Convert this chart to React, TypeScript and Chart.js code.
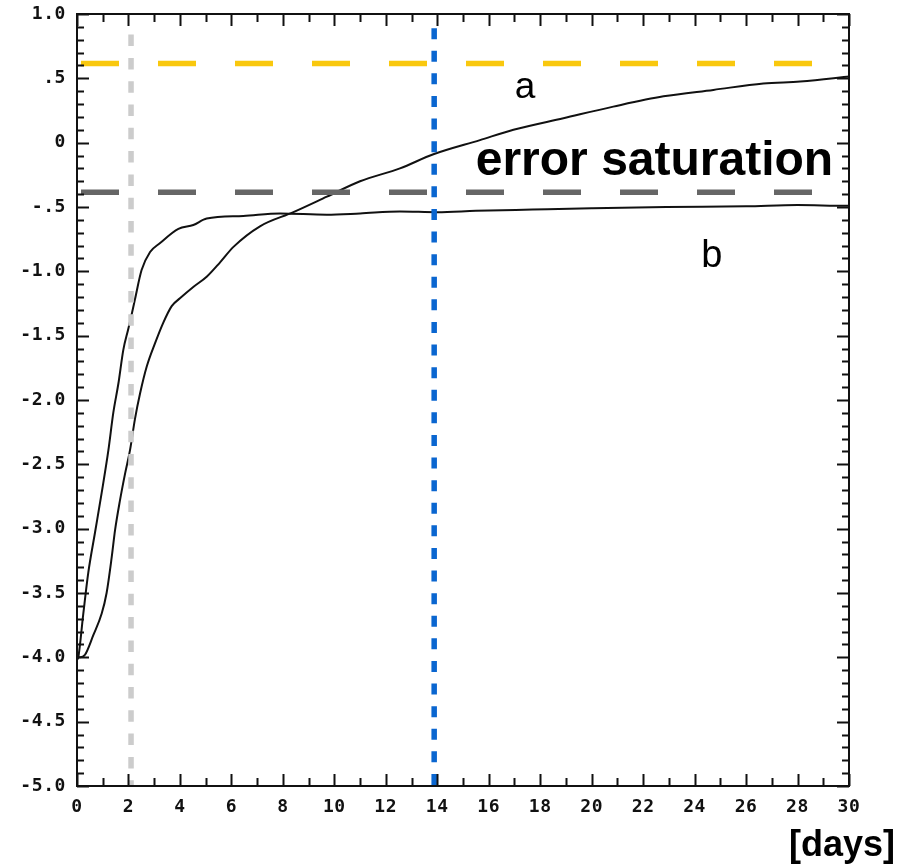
import React, { useEffect, useRef } from "react";
import { Chart, registerables } from "chart.js";

Chart.register(...registerables);

// ---- data ----
const curveADays = [0, 0.12, 0.31, 0.63, 0.96, 1.15, 1.35, 1.48, 1.67, 1.87, 2.06, 2.25, 2.45, 2.71, 3.03, 3.35, 3.68, 4.0, 4.53, 5.05, 5.56, 6.08, 7.11, 8.41, 9.71, 11.0, 12.55, 13.85, 15.66, 16.96, 18.9, 20.84, 22.79, 24.73, 26.67, 28.1, 29.4, 30];
const curveAValues = [-4.0, -4.0, -3.98, -3.83, -3.66, -3.5, -3.22, -3.01, -2.78, -2.57, -2.39, -2.15, -1.95, -1.74, -1.56, -1.4, -1.27, -1.21, -1.12, -1.04, -0.93, -0.81, -0.65, -0.54, -0.42, -0.3, -0.2, -0.09, 0.02, 0.1, 0.19, 0.28, 0.36, 0.41, 0.46, 0.475, 0.5, 0.515];

const curveBDays = [0, 0.05, 0.245, 0.44, 0.7, 0.96, 1.22, 1.41, 1.61, 1.8, 1.99, 2.13, 2.25, 2.51, 2.84, 3.23, 3.94, 4.52, 5.04, 6.46, 7.89, 9.7, 11.0, 12.55, 14.0, 15.5, 17.7, 20.0, 22.9, 26.0, 28.0, 29.9, 30];
const curveBValues = [-4.02, -4.0, -3.66, -3.34, -3.03, -2.72, -2.39, -2.1, -1.87, -1.61, -1.45, -1.33, -1.22, -0.99, -0.85, -0.78, -0.67, -0.64, -0.59, -0.57, -0.55, -0.56, -0.55, -0.535, -0.54, -0.53, -0.52, -0.51, -0.5, -0.495, -0.485, -0.49, -0.49];

const saturationLevelA = 0.616; // yellow dashed
const saturationLevelB = -0.385; // dark gray dashed
const markerDays = [2.1, 13.88]; // light gray, blue
const markerTops = [0.84, 0.89];

const xRange = [0, 30];
const yRange = [-5, 1];
const xTickStep = 2;
const yTickStep = 0.5;
const yMinorStep = 0.1;

const annotations = [
  { text: "a", day: 17.41, value: 0.348, font: "normal 37px 'Liberation Sans', Arial, sans-serif" },
  { text: "error saturation", day: 22.44, value: -0.25, font: "bold 48px 'Liberation Sans', Arial, sans-serif" },
  { text: "b", day: 24.67, value: -0.963, font: "normal 38px 'Liberation Sans', Arial, sans-serif" },
];
const axisUnit = "[days]";

const fmtY = (v: number) => {
  if (Math.abs(v) < 1e-9) return "0";
  const s = v.toFixed(1);
  return Math.abs(v) < 1 ? s.replace("0.", ".") : s;
};

const decor = {
  id: "decor",
  beforeDraw(chart: any) {
    chart.ctx.letterSpacing = "0.6px";
  },
  afterDraw(chart: any) {
    const { ctx, chartArea: a } = chart;
    const x = chart.scales.x;
    const y = chart.scales.y;
    ctx.save();
    ctx.letterSpacing = "0px";
    ctx.strokeStyle = "#111";
    ctx.lineWidth = 2;
    ctx.strokeRect(a.left, a.top, a.right - a.left, a.bottom - a.top);
    ctx.beginPath();
    const nY = Math.round((yRange[1] - yRange[0]) / yMinorStep);
    for (let i = 0; i <= nY; i++) {
      const v = yRange[0] + i * yMinorStep;
      const len = i % 5 === 0 ? 12 : 7;
      const py = Math.round(y.getPixelForValue(v)) + 0.5;
      ctx.moveTo(a.left, py);
      ctx.lineTo(a.left + len, py);
      ctx.moveTo(a.right, py);
      ctx.lineTo(a.right - len, py);
    }
    for (let d = xRange[0]; d <= xRange[1]; d++) {
      const len = d % 2 === 0 ? 12 : 8;
      const px = Math.round(x.getPixelForValue(d)) + 0.5;
      ctx.moveTo(px, a.bottom);
      ctx.lineTo(px, a.bottom - len);
      ctx.moveTo(px, a.top);
      ctx.lineTo(px, a.top + len);
    }
    ctx.stroke();

    ctx.fillStyle = "#000";
    ctx.textAlign = "center";
    ctx.textBaseline = "alphabetic";
    for (const an of annotations) {
      ctx.font = an.font;
      ctx.fillText(an.text, x.getPixelForValue(an.day), y.getPixelForValue(an.value));
    }
    ctx.font = "bold 36px 'Liberation Sans', Arial, sans-serif";
    ctx.textAlign = "right";
    ctx.fillText(axisUnit, a.right + 46, a.bottom + 70);
    ctx.restore();
  },
};

export default function App() {
  const ref = useRef<HTMLCanvasElement | null>(null);
  useEffect(() => {
    if (!ref.current) return;
    const toXY = (xs: number[], ys: number[]) => xs.map((d, i) => ({ x: d, y: ys[i] }));
    const line = (data: any[], color: string, width: number, dash: number[], offset = 0) => ({
      data,
      borderColor: color,
      borderWidth: width,
      borderDash: dash,
      borderDashOffset: offset,
      borderCapStyle: "butt",
      pointRadius: 0,
      fill: false,
      tension: 0,
    });
    const tickFont = { family: "'DejaVu Sans Mono', monospace", size: 18, weight: "bold" as const };
    const chart = new Chart(ref.current, {
      type: "line",
      data: {
        datasets: [
          line([{ x: markerDays[1], y: markerTops[1] }, { x: markerDays[1], y: yRange[0] }], "#0a66d0", 5.5, [11, 11.6]),
          line([{ x: markerDays[0], y: markerTops[0] }, { x: markerDays[0], y: yRange[0] }], "#cccccc", 5.5, [11.5, 11.8]),
          line([{ x: xRange[0], y: saturationLevelA }, { x: xRange[1], y: saturationLevelA }], "#f9c80e", 5.5, [38, 39], -4),
          line([{ x: xRange[0], y: saturationLevelB }, { x: xRange[1], y: saturationLevelB }], "#666666", 5.5, [38, 39], -4),
          { ...line(toXY(curveBDays, curveBValues), "#111", 2, []), cubicInterpolationMode: "monotone" },
          { ...line(toXY(curveADays, curveAValues), "#111", 2, []), cubicInterpolationMode: "monotone" },
        ] as any,
      },
      options: {
        responsive: false,
        animation: false,
        events: [],
        layout: { padding: { top: 14, right: 63, left: 0, bottom: 0 } },
        plugins: { legend: { display: false }, tooltip: { enabled: false } },
        scales: {
          x: {
            type: "linear",
            min: xRange[0],
            max: xRange[1],
            grid: { display: false, drawTicks: false },
            border: { display: false },
            ticks: {
              stepSize: xTickStep,
              color: "#111",
              padding: 11,
              maxRotation: 0,
              font: tickFont,
            },
            afterFit: (s: any) => {
              s.height = 81;
              s.paddingLeft = 0;
              s.paddingRight = 0;
            },
          },
          y: {
            type: "linear",
            min: yRange[0],
            max: yRange[1],
            grid: { display: false, drawTicks: false },
            border: { display: false },
            ticks: {
              stepSize: yTickStep,
              color: "#111",
              padding: 11,
              callback: (v: any) => fmtY(Number(v)),
              font: tickFont,
            },
            afterFit: (s: any) => {
              s.width = 77;
              s.paddingTop = 0;
              s.paddingBottom = 0;
            },
          },
        },
      },
      plugins: [decor],
    });
    return () => chart.destroy();
  }, []);
  return (
    <div style={{ position: "absolute", left: 0, top: 0, width: 912, height: 867, background: "#fff" }}>
      <canvas ref={ref} width={912} height={867} style={{ width: 912, height: 867, display: "block" }} />
    </div>
  );
}
